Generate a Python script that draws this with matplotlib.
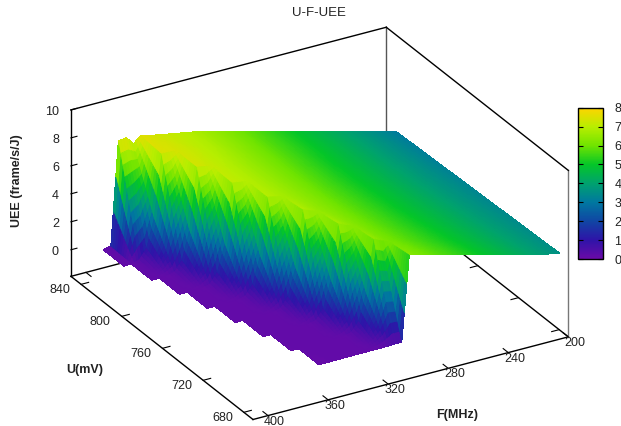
import numpy as np
import matplotlib
matplotlib.use('Agg')
import matplotlib.pyplot as plt
from matplotlib.colors import LinearSegmentedColormap, Normalize
from matplotlib.cm import ScalarMappable
from mpl_toolkits.mplot3d import proj3d
from mpl_toolkits.mplot3d.art3d import Poly3DCollection

plt.rcParams['font.family'] = ['Liberation Sans', 'DejaVu Sans']

nan = np.nan

# values
U_values = [680, 700, 720, 740, 760, 780, 800, 820, 840]
F_values = [200, 220, 240, 260, 280, 300, 305, 310, 315, 320, 325, 330, 335,
            340, 345, 350, 355, 360, 365, 370, 375, 380, 385, 390, 395]

uee_680 = [3.56, 4.05, 4.62, 5.20, 5.75, 6.30,
           0.20, 0.18, 0.16, 0.15, 0.15, 0.14, 0.14, 0.14, 0.13, 0.13, 0.12, 0.12,
           nan, nan, nan, nan, nan, nan, nan]
uee_700 = [3.50, 3.98, 4.50, 5.05, 5.58, 6.10, 6.28, 6.54,
           2.80, 0.95, 0.30, 0.16, 0.15, 0.15, 0.14, 0.14, 0.13, 0.13, 0.12,
           nan, nan, nan, nan, nan, nan]
uee_720 = [3.44, 3.90, 4.42, 4.96, 5.48, 6.02, 6.18, 6.33, 6.52, 6.78,
           2.90, 1.00, 0.30, 0.16, 0.15, 0.15, 0.14, 0.14, 0.13, 0.12,
           nan, nan, nan, nan, nan]
uee_740 = [3.38, 3.84, 4.36, 4.88, 5.42, 5.95, 6.10, 6.25, 6.38, 6.52, 6.70, 6.92,
           2.90, 1.00, 0.30, 0.16, 0.15, 0.15, 0.14, 0.14, 0.13,
           nan, nan, nan, nan]
uee_760 = [3.32, 3.78, 4.30, 4.84, 5.37, 5.90, 6.05, 6.20, 6.33, 6.47, 6.60, 6.72, 6.84, 6.96,
           2.90, 1.00, 0.30, 0.16, 0.15, 0.15, 0.14, 0.14,
           nan, nan, nan]
uee_780 = [3.26, 3.74, 4.26, 4.80, 5.33, 5.88, 6.02, 6.16, 6.30, 6.44, 6.57, 6.70, 6.83, 6.95, 7.02, 7.10,
           2.90, 1.00, 0.30, 0.16, 0.15, 0.15, 0.14,
           nan, nan]
uee_800 = [3.20, 3.70, 4.24, 4.78, 5.32, 5.88, 6.02, 6.16, 6.30, 6.43, 6.57, 6.70, 6.83, 6.95, 7.06, 7.16, 7.27, 7.38,
           3.00, 1.00, 0.30, 0.16, 0.15, 0.15,
           nan]
uee_820 = [3.14, 3.67, 4.22, 4.78, 5.34, 5.89, 6.04, 6.18, 6.32, 6.46, 6.60, 6.74, 6.87, 6.98, 7.08, 7.18, 7.28, 7.38, 7.44, 7.46,
           3.00, 1.00, 0.30, 0.16, 0.15]
uee_840 = [3.07, 3.64, 4.20, 4.77, 5.34, 5.90, 6.05, 6.20, 6.33, 6.47, 6.60, 6.74, 6.86, 6.98, 7.05, 7.15, 7.25, 7.35, 7.45, 7.60, 7.15, 7.70, 7.65,
           0.25, 0.15]

U_ticks = [680, 720, 760, 800, 840]
F_ticks = [200, 240, 280, 320, 360, 400]
Z_ticks = [0, 2, 4, 6, 8, 10]
cb_ticks = [0, 1, 2, 3, 4, 5, 6, 7, 8]

U_lim = (671, 850)
F_lim = (200, 410)
Z_lim = (-1.9, 10)

colors = ['#6a0aa8', '#2e14a8', '#1046a4', '#0078a0', '#00a26e',
          '#04c628', '#70e400', '#b8ee00', '#ffd400']
cmap = LinearSegmentedColormap.from_list('uee', colors, N=256)
norm = Normalize(0, 8)

Z = np.array([uee_680, uee_700, uee_720, uee_740, uee_760, uee_780, uee_800, uee_820, uee_840])

W, H = 621, 426
fig = plt.figure(figsize=(W / 100, H / 100), dpi=100)
ax = fig.add_axes([0.1, 0.05, 0.6, 0.6 * W / H], projection='3d',
                  proj_type='ortho', computed_zorder=False)
ax.view_init(elev=27, azim=150)
ax.set_box_aspect((1, 1, 0.513))
ax.set_xlim(*U_lim, view_margin=0)
ax.set_ylim(*F_lim, view_margin=0)
ax.set_zlim(*Z_lim, view_margin=0)
ax.set_axis_off()
ax.patch.set_visible(False)

# each cell is shaded in small pieces, like pm3d interpolate
polys = []
shade = []
for i in range(len(U_values) - 1):
    for j in range(len(F_values) - 1):
        c = Z[i:i + 2, j:j + 2]
        if np.isnan(c).any():
            continue
        nu = 10
        nf = (F_values[j + 1] - F_values[j]) * 3 // 5
        s = np.linspace(0, 1, nu + 1)
        t = np.linspace(0, 1, nf + 1)
        us = U_values[i] + s * (U_values[i + 1] - U_values[i])
        fs = F_values[j] + t * (F_values[j + 1] - F_values[j])
        zz = (np.outer(1 - s, 1 - t) * c[0, 0] + np.outer(1 - s, t) * c[0, 1]
              + np.outer(s, 1 - t) * c[1, 0] + np.outer(s, t) * c[1, 1])
        for a in range(nu):
            for b in range(nf):
                polys.append([(us[a], fs[b], zz[a, b]), (us[a + 1], fs[b], zz[a + 1, b]),
                              (us[a + 1], fs[b + 1], zz[a + 1, b + 1]), (us[a], fs[b + 1], zz[a, b + 1])])
                shade.append(zz[a:a + 2, b:b + 2].mean())
face = cmap(norm(np.array(shade)))
# a hard edged copy underneath closes the seams of the smooth one
ax.add_collection3d(Poly3DCollection(polys, facecolors=face, edgecolors=face, linewidths=0.5,
                                     antialiased=False, zorder=2))
ax.add_collection3d(Poly3DCollection(polys, facecolors=face, edgecolors='none', linewidths=0, zorder=3))

# box
u0, u1 = U_lim
f0, f1 = F_lim
z0, z1 = Z_lim
edges = [((u0, f1, z0), (u0, f0, z0), 'black'), ((u0, f1, z0), (u1, f1, z0), 'black'),
         ((u1, f1, z0), (u1, f0, z0), 'black'), ((u1, f0, z0), (u0, f0, z0), 'black'),
         ((u1, f1, z0), (u1, f1, z1), 'black'), ((u1, f0, z0), (u1, f0, z1), '#555555'),
         ((u0, f0, z0), (u0, f0, z1), '#777777'),
         ((u1, f1, z1), (u1, f0, z1), 'black'), ((u1, f0, z1), (u0, f0, z1), 'black')]
for p, q, col in edges:
    ax.plot(*zip(p, q), color=col, lw=1.0, zorder=1, solid_capstyle='projecting')


def label3d(u, f, z, s, **kw):
    x, y, _ = proj3d.proj_transform(u, f, z, ax.get_proj())
    ax.text2D(x, y, s, transform=ax.transData, va='center', fontsize=9, color='#222222', zorder=5, **kw)


tick_kw = dict(color='black', lw=0.8, zorder=1)
for f in F_ticks:
    ax.plot([u0, u0 + 5], [f, f], [z0, z0], **tick_kw)
    ax.plot([u1, u1 - 5], [f, f], [z0, z0], **tick_kw)
    label3d(u0 - 7.2, f + 0.5, z0, str(f), ha='center')
for u in U_ticks:
    ax.plot([u, u], [f1, f1 - 5], [z0, z0], **tick_kw)
    ax.plot([u, u], [f0, f0 + 5], [z0, z0], **tick_kw)
    label3d(u - 0.4, f1 + 14.6, z0, str(u), ha='center')
for z in Z_ticks:
    ax.plot([u1, u1], [f1, f1 - 4], [z, z], **tick_kw)
    label3d(u1, f1 + 8, z + 0.05, str(z), ha='right')


# put the box where it is in the picture: floor corners of the F axis
def to_px(u, f, z):
    x, y, _ = proj3d.proj_transform(u, f, z, ax.get_proj())
    return ax.transData.transform((x, y))


fig.canvas.draw()
bb = ax.get_window_extent()
a = to_px(u0, f1, z0)
b = to_px(u0, f0, z0)
ta = np.array([253.0, H - 419.5])
tb = np.array([568.3, H - 336.7])
k = np.linalg.norm(tb - ta) / np.linalg.norm(b - a)
cen = np.array([bb.x0 + bb.width / 2, bb.y0 + bb.height / 2])
new_cen = ta - k * (a - cen)
L = bb.width * k
ax.set_position([(new_cen[0] - L / 2) / W, (new_cen[1] - L / 2) / H, L / W, L / H])

fig.text(319 / W, 1 - 13 / H, 'U-F-UEE', ha='center', va='center', fontsize=9.5, color='#222222')
fig.text(457 / W, 1 - 415 / H, 'F(MHz)', ha='center', va='center', fontsize=9, fontweight='bold', color='#222222')
fig.text(84.5 / W, 1 - 370 / H, 'U(mV)', ha='center', va='center', fontsize=9, fontweight='bold', color='#222222')
fig.text(17 / W, 1 - 181 / H, 'UEE (frame/s/J)', ha='center', va='center', rotation=90,
         fontsize=9, fontweight='bold', color='#222222')

cax = fig.add_axes([578.3 / W, 1 - 259 / H, 25 / W, 151.3 / H])
cb = fig.colorbar(ScalarMappable(norm=norm, cmap=cmap), cax=cax)
cb.set_ticks(cb_ticks)
cb.outline.set_linewidth(1)
cax.tick_params(axis='y', which='major', left=True, right=True, direction='in',
                length=3.6, width=0.8, pad=8, labelsize=9, labelcolor='#222222')

fig.savefig('out.png', dpi=100)
